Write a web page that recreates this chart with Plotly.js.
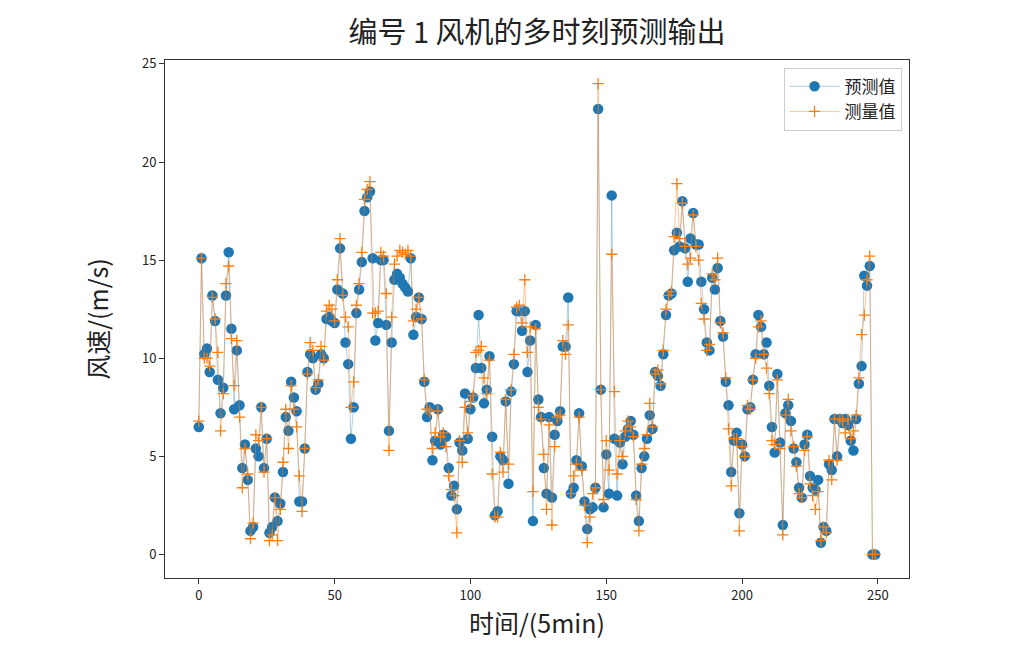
<!DOCTYPE html>
<html>
<head>
<meta charset="utf-8">
<script src="https://cdn.plot.ly/plotly-3.0.1.min.js"></script>
<style>
  html, body { margin: 0; padding: 0; background: #fff; }
  #chart { width: 1036px; height: 661px; }
</style>
</head>
<body>
<div id="chart"></div>
<script>
// 预测值 (blue dots), one value per 5-min step
const predicted = [
  6.5, 15.1, 10.2, 10.5, 9.3, 13.2, 11.9, 8.9, 7.2, 8.5,
  13.2, 15.4, 11.5, 7.4, 10.4, 7.6, 4.4, 5.6, 3.8, 1.2,
  1.4, 5.4, 5.0, 7.5, 4.4, 5.9, 1.1, 1.4, 2.9, 1.7,
  2.6, 4.2, 7.0, 6.3, 8.8, 8.0, 7.3, 2.7, 2.7, 5.4,
  9.3, 10.2, 10.0, 8.4, 8.7, 10.2, 10.0, 12.0, 12.1, 11.9,
  11.8, 13.5, 15.6, 13.3, 10.8, 9.7, 5.9, 7.5, 12.3, 13.5,
  14.9, 17.5, 18.2, 18.5, 15.1, 10.9, 11.8, 15.0, 15.0, 11.7,
  6.3, 10.8, 14.0, 14.3, 14.1, 13.8, 13.6, 13.4, 15.1, 11.2,
  12.1, 13.1, 12.0, 8.8, 7.0, 7.5, 4.8, 5.8, 7.4, 5.6,
  6.1, 6.0, 4.4, 3.0, 3.5, 2.3, 5.7, 5.3, 8.2, 5.9,
  7.4, 8.0, 9.5, 12.2, 9.5, 7.7, 8.4, 10.1, 6.0, 2.0,
  2.2, 5.0, 4.8, 7.8, 3.6, 8.3, 9.7, 12.4, 12.4, 11.4,
  12.4, 9.3, 10.9, 1.7, 11.7, 7.9, 7.0, 4.4, 3.1, 7.0,
  2.9, 6.1, 6.8, 7.3, 10.6, 10.6, 13.1, 3.1, 3.4, 4.8,
  7.2, 4.5, 2.7, 1.3, 2.3, 2.4, 3.4, 22.7, 8.4, 2.4,
  5.1, 3.1, 18.3, 5.9, 3.0, 5.7, 4.6, 6.0, 6.4, 6.8,
  6.1, 3.0, 1.7, 4.4, 5.0, 5.9, 7.1, 6.4, 9.3, 9.1,
  8.6, 10.2, 12.2, 13.2, 13.3, 15.5, 16.4, 15.7, 18.0, 15.6,
  13.9, 16.1, 17.4, 15.8, 15.8, 13.9, 12.5, 10.8, 10.4, 14.1,
  13.5, 14.6, 11.9, 11.1, 8.8, 7.6, 4.2, 5.8, 6.2, 2.1,
  5.6, 5.0, 7.4, 7.5, 8.9, 10.2, 12.2, 11.6, 10.2, 10.8,
  8.6, 6.5, 5.2, 9.2, 5.7, 1.5, 7.2, 7.6, 6.8, 5.4,
  4.7, 3.4, 2.9, 5.6, 6.1, 4.0, 3.4, 3.3, 3.8, 0.6,
  1.4, 1.2, 4.6, 4.3, 6.9, 5.0, 6.9, 6.7, 6.9, 6.6,
  5.8, 5.3, 6.9, 8.7, 9.6, 14.2, 13.7, 14.7, 0.0, 0.0,
];

// 测量值 (orange crosses)
const measured = [
  6.8, 15.1, 10.0, 10.0, 9.6, 13.1, 12.0, 10.3, 6.3, 8.2,
  13.8, 14.7, 11.0, 8.6, 10.9, 7.0, 3.4, 5.4, 4.1, 0.8,
  1.6, 6.1, 5.8, 7.5, 4.2, 5.9, 0.7, 1.0, 2.9, 0.7,
  2.3, 4.7, 7.4, 5.4, 8.6, 7.4, 6.5, 4.0, 2.2, 5.4,
  9.2, 10.8, 10.4, 8.5, 8.9, 10.6, 9.9, 12.4, 12.7, 12.5,
  11.9, 14.0, 16.1, 13.2, 12.1, 11.6, 7.5, 8.8, 12.7, 13.8,
  15.4, 18.1, 18.6, 19.0, 12.3, 12.3, 12.4, 15.4, 15.2, 13.3,
  5.3, 12.1, 14.8, 15.2, 15.5, 15.4, 15.3, 15.5, 15.2, 11.9,
  12.5, 13.1, 12.0, 8.9, 7.4, 7.3, 5.4, 6.2, 7.3, 6.0,
  6.2, 5.5, 4.0, 3.3, 3.0, 1.1, 5.8, 4.7, 7.5, 6.2,
  7.8, 8.1, 10.3, 10.4, 10.6, 9.0, 8.2, 9.9, 4.1, 1.9,
  1.9, 5.2, 4.2, 7.9, 4.6, 8.4, 10.2, 12.6, 12.7, 11.8,
  14.0, 10.3, 11.6, 3.2, 11.5, 7.5, 6.9, 5.1, 2.3, 6.6,
  1.5, 5.5, 7.0, 7.1, 10.9, 10.2, 11.7, 3.1, 4.0, 4.6,
  7.0, 4.3, 2.5, 0.6, 1.9, 3.1, 3.4, 24.0, 8.4, 2.8,
  5.8, 4.3, 15.3, 8.3, 4.1, 5.8, 5.0, 6.3, 6.8, 6.5,
  6.0, 2.8, 1.2, 4.6, 5.4, 6.1, 7.7, 6.5, 9.2, 9.4,
  8.7, 10.4, 12.5, 13.2, 13.4, 16.2, 18.9, 16.1, 17.9, 15.7,
  14.8, 15.1, 17.3, 15.7, 15.0, 12.8, 12.0, 10.4, 10.7, 14.3,
  14.0, 15.1, 11.8, 11.3, 9.0, 6.4, 3.5, 5.9, 5.9, 1.2,
  5.5, 5.0, 7.6, 7.4, 8.9, 10.0, 11.6, 11.9, 10.2, 9.5,
  8.2, 5.8, 5.6, 8.9, 5.4, 1.0, 7.1, 7.9, 6.3, 5.5,
  4.5, 3.1, 2.9, 5.3, 6.0, 3.6, 3.0, 2.3, 3.2, 0.7,
  1.4, 1.1, 4.8, 3.8, 6.9, 4.8, 6.9, 6.8, 6.2, 6.9,
  5.9, 6.3, 7.1, 9.0, 11.2, 12.2, 14.0, 15.2, 0.0, 0.0,
];

const xTicks = [0, 50, 100, 150, 200, 250];
const yTicks = [0, 5, 10, 15, 20, 25];

const FONT = '"Noto Sans CJK SC", "Noto Sans", sans-serif';
const steps = predicted.map((_, i) => i);

function buildTraces() {
  return [
    {
      x: steps,
      y: predicted,
      type: "scatter",
      mode: "lines+markers",
      name: "预测值",
      line: { color: "rgba(31,119,180,0.35)", width: 1 },
      marker: { symbol: "circle", size: 10.5, color: "#1f77b4" },
    },
    {
      x: steps,
      y: measured,
      type: "scatter",
      mode: "lines+markers",
      name: "测量值",
      line: { color: "rgba(255,127,14,0.45)", width: 1 },
      marker: {
        symbol: "cross-thin",
        size: 8,
        color: "#ff7f0e",
        line: { color: "#ff7f0e", width: 1.3 },
      },
    },
  ];
}

function buildLayout() {
  const axis = {
    showgrid: false,
    zeroline: false,
    showline: true,
    linecolor: "#333",
    linewidth: 1,
    mirror: true,
    ticks: "outside",
    ticklen: 5,
    tickcolor: "#333",
    tickfont: { family: FONT, size: 13, color: "#222" },
  };
  return {
    width: 1036,
    height: 661,
    paper_bgcolor: "#fff",
    plot_bgcolor: "#fff",
    font: { family: FONT, color: "#222" },
    margin: { l: 165, r: 127, t: 60, b: 83 },
    showlegend: true,
    title: {
      text: "编号 1 风机的多时刻预测输出",
      font: { family: FONT, size: 29, color: "#222" },
      xref: "paper",
      x: 0.5,
      xanchor: "center",
      y: 0.951,
      yanchor: "middle",
    },
    xaxis: {
      ...axis,
      range: [-12.45, 261.45],
      tickvals: xTicks,
      title: { text: "时间/(5min)", font: { family: FONT, size: 25, color: "#222" }, standoff: 12 },
    },
    yaxis: {
      ...axis,
      range: [-1.2, 25.2],
      tickvals: yTicks,
      title: { text: "风速/(m/s)", font: { family: FONT, size: 25, color: "#222" }, standoff: 26 },
    },
    legend: {
      x: 0.99,
      y: 0.985,
      xanchor: "right",
      yanchor: "top",
      bgcolor: "rgba(255,255,255,0.9)",
      bordercolor: "#ccc",
      borderwidth: 1,
      itemwidth: 50,
      font: { family: FONT, size: 17, color: "#222" },
      tracegroupgap: 0,
    },
  };
}

Plotly.newPlot("chart", buildTraces(), buildLayout(), { displayModeBar: false, staticPlot: true });
</script>
</body>
</html>
